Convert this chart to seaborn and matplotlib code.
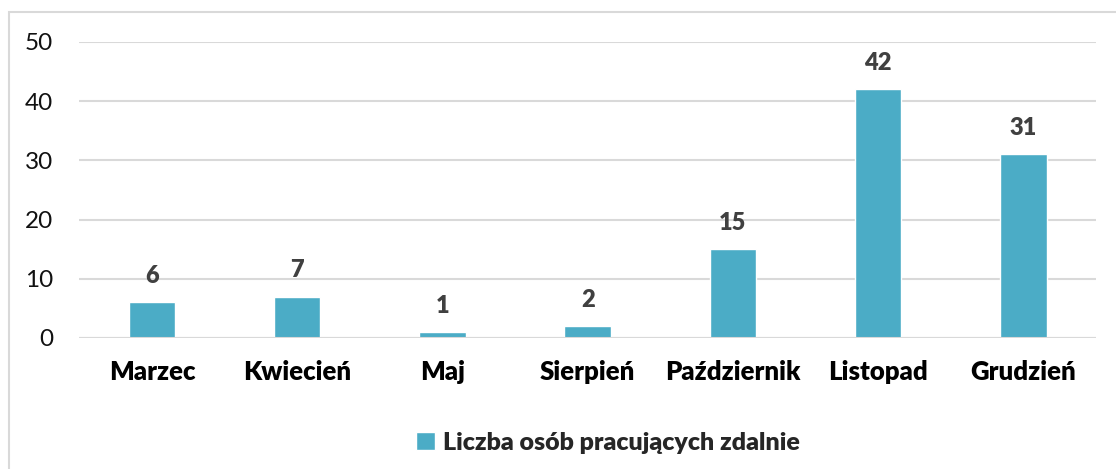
import pandas as pd
import matplotlib.pyplot as plt
import seaborn as sns
from matplotlib.patches import Rectangle

months = ['Marzec', 'Kwiecień', 'Maj', 'Sierpień', 'Październik', 'Listopad', 'Grudzień']
counts = [6, 7, 1, 2, 15, 42, 31]
series_name = 'Liczba osób pracujących zdalnie'
y_ticks = [0, 10, 20, 30, 40, 50]

df = pd.DataFrame({'miesiac': months, 'liczba': counts})

sns.set_theme(style='white')
plt.rcParams['font.family'] = ['Lato', 'DejaVu Sans']

bar_color = '#4BACC6'
grid_color = '#D9D9D9'

fig = plt.figure(figsize=(11.16, 4.69), dpi=100)
ax = fig.add_axes([79.3 / 1116, 1 - 338 / 469, (1096 - 79.3) / 1116, 296 / 469])

sns.barplot(data=df, x='miesiac', y='liczba', color=bar_color, width=0.32,
            saturation=1, ax=ax, label=series_name)

ax.set_ylim(0, 50)
ax.set_yticks(y_ticks)
ax.yaxis.grid(True, color=grid_color, linewidth=1.5)
ax.set_axisbelow(True)
for s in ax.spines.values():
    s.set_visible(False)
ax.axhline(0, color=grid_color, linewidth=1.5, zorder=1)

ax.set_xlabel('')
ax.set_ylabel('')
ax.tick_params(axis='y', length=0, pad=19, labelsize=17.5, labelcolor='#111111')
ax.tick_params(axis='x', length=0, pad=16, labelsize=18.5)
for lbl in ax.get_xticklabels():
    lbl.set_fontweight('heavy')
    lbl.set_color('#000000')

for c in ax.containers:
    ax.bar_label(c, padding=11, fontsize=17, fontweight='heavy', color='#404040')

leg = ax.legend(loc='center', bbox_to_anchor=(0.52, (338 - 443) / 296), frameon=False,
                handlelength=0.75, handleheight=0.75, handletextpad=0.35,
                prop={'weight': 'heavy', 'size': 18})

# chart border (only left and top visible in the crop)
fig.patches.append(Rectangle((9 / 1116, -0.1), 1.2, 1 - 12 / 469 + 0.1,
                             transform=fig.transFigure, fill=False,
                             edgecolor='#D9D9D9', linewidth=1.5))

fig.savefig('out.png', dpi=100)
